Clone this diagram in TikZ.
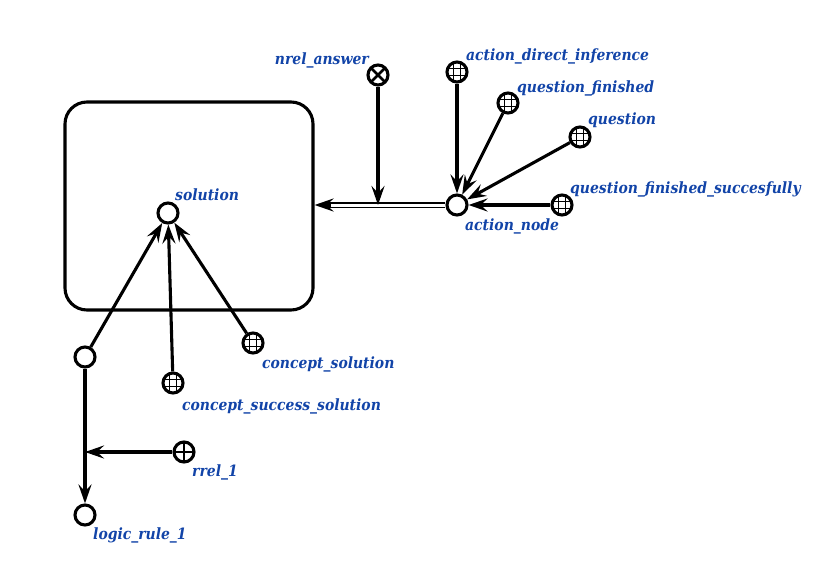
\documentclass[tikz,border=0pt]{standalone}
\usepackage{fontspec}
\setmainfont{DejaVu Serif Condensed}
\usetikzlibrary{arrows.meta}
\definecolor{lblue}{RGB}{18,68,168}
\begin{document}
\begin{tikzpicture}[x=1pt,y=-1pt,
  vtx/.style={circle,draw,line width=3.1pt,minimum size=20pt,inner sep=0pt},
  gridvtx/.style={vtx,path picture={
      \foreach \d in {-3.6,3.6}{
        \draw[line width=1.4pt] ([xshift=\d pt]path picture bounding box.north) -- ([xshift=\d pt]path picture bounding box.south);
        \draw[line width=1.4pt] ([yshift=\d pt]path picture bounding box.west) -- ([yshift=\d pt]path picture bounding box.east);
      }}},
  crossvtx/.style={vtx,path picture={
      \draw[line width=2.8pt] (path picture bounding box.north west) -- (path picture bounding box.south east);
      \draw[line width=2.8pt] (path picture bounding box.north east) -- (path picture bounding box.south west);}},
  plusvtx/.style={vtx,path picture={
      \draw[line width=2.8pt] (path picture bounding box.north) -- (path picture bounding box.south);
      \draw[line width=2.8pt] (path picture bounding box.west) -- (path picture bounding box.east);}},
  lbl/.style={anchor=base west,inner sep=0pt,text=lblue,
      font=\fontsize{15.5}{18}\selectfont\bfseries\itshape},
  arr/.style={line width=3.1pt,-{Stealth[length=19pt,width=13pt,inset=7pt]}},
  dbl/.style={double,double distance=3pt,line width=1.3pt},
  frame/.style={draw,line width=3.1pt,rounded corners=22pt,minimum width=248pt,minimum height=208pt,inner sep=0pt}
]
\useasboundingbox (0,0) rectangle (837,570);

% contour
\node[frame] (ctr) at (189,206) {};

% vertices
\node[vtx] (sol) at (168,213) {};
\node[vtx] (act) at (457,205) {};
\node[crossvtx] (nrel) at (378,75) {};
\node[gridvtx] (adi) at (457,72) {};
\node[gridvtx] (qf) at (508,103) {};
\node[gridvtx] (q) at (580,137) {};
\node[gridvtx] (qfs) at (562,205) {};
\node[vtx] (lc) at (85,357) {};
\node[gridvtx] (css) at (173,383) {};
\node[gridvtx] (cs) at (253,343) {};
\node[vtx] (lr) at (85,515) {};
\node[plusvtx] (rrel) at (184,452) {};

% labels
\node[lbl] (l-sol) at (175,200) {solution};
\node[lbl] (l-act) at (465,230) {action\_node};
\node[lbl,anchor=base east] (l-nrel) at (369,64) {nrel\_answer};
\node[lbl] (l-adi) at (466,60) {action\_direct\_inference};
\node[lbl] (l-qf) at (517,92) {question\_finished};
\node[lbl] (l-q) at (588,124) {question};
\node[lbl] (l-qfs) at (570,193) {question\_finished\_succesfully};
\node[lbl] (l-cs) at (262,368) {concept\_solution};
\node[lbl] (l-css) at (182,410) {concept\_success\_solution};
\node[lbl] (l-rrel) at (192,476) {rrel\_1};
\node[lbl] (l-lr) at (93,539) {logic\_rule\_1};

% arcs into action_node
\draw[arr] (adi) -- (act);
\draw[arr] (qf) -- (act);
\draw[arr] (q) -- (act);
\draw[arr] (qfs) -- (act);

% common arc from action_node to the contour
\coordinate (dj) at (ctr.east |- act);
\draw[dbl] (act.west) -- ([xshift=12pt]dj);
\draw[arr] ([xshift=16pt]dj) -- (dj);
\draw[arr] (nrel) -- (nrel |- act);

% arcs into solution
\draw[arr] (lc) -- (sol);
\draw[arr] (css) -- (sol);
\draw[arr] (cs) -- (sol);

% logic rule
\coordinate (rj) at (lc |- rrel);
\draw[arr] (lc) -- (lr);
\draw[arr] (rrel) -- (rj);
\end{tikzpicture}
\end{document}
